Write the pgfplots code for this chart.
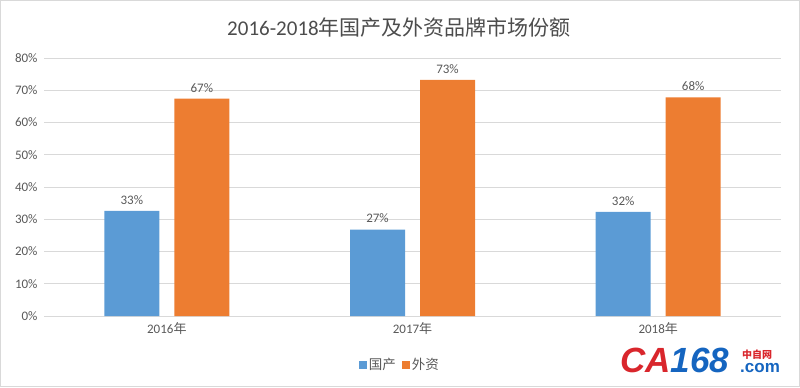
\documentclass[border=0pt]{standalone}
\usepackage{fontspec}
\setmainfont{Carlito}
\newfontfamily\cjk{Noto Sans CJK SC}
\newfontfamily\logo{Liberation Sans}
\usepackage{pgfplots}
\pgfplotsset{compat=1.18}
\definecolor{cblue}{HTML}{5B9BD5}
\definecolor{corange}{HTML}{ED7D31}
\definecolor{tgrey}{HTML}{595959}
\definecolor{ggrey}{HTML}{D9D9D9}
\definecolor{lred}{HTML}{D9262C}
\definecolor{lblue}{HTML}{1565C0}
\begin{document}
\begin{tikzpicture}[x=1bp,y=1bp]
\path[use as bounding box] (0,0) rectangle (800,387);
\draw[ggrey, line width=1bp] (0.5,0.5) rectangle (799.5,386.5);
\node[text=tgrey!85!black, font=\fontsize{21bp}{24bp}\selectfont] at (399,359) {2016-2018{\cjk 年国产及外资品牌市场份额}};
\begin{axis}[
  at={(44bp,71bp)}, anchor=south west, scale only axis,
  width=737bp, height=258bp,
  ybar=15bp, bar width=55bp,
  ymin=0, ymax=80, xmin=-0.5, xmax=2.5,
  xtick={0,1,2}, xticklabels={2016{\cjk 年},2017{\cjk 年},2018{\cjk 年}},
  ytick={0,10,...,80},
  yticklabels={0\%,10\%,20\%,30\%,40\%,50\%,60\%,70\%,80\%},
  major tick length=0pt,
  axis line style={draw=none},
  ymajorgrids, grid style={ggrey, line width=0.9bp},
  ticklabel style={text=tgrey, font=\fontsize{13bp}{15bp}\selectfont},
  yticklabel style={xshift=-3bp},
  xticklabel style={yshift=-3bp},
  nodes near coords,
  point meta=explicit symbolic,
  nodes near coords style={text=tgrey, font=\fontsize{13bp}{15bp}\selectfont, yshift=3bp},
  legend columns=2,
  legend style={at={(0.483,-0.190)}, anchor=center, draw=none, fill=none,
    font=\fontsize{13.5bp}{15bp}\selectfont, text=tgrey,
    nodes={inner xsep=2bp}},
  legend image code/.code={\fill[#1] (0bp,-4bp) rectangle (8bp,4bp);},
  clip=false,
]
\addplot[fill=cblue, draw=none] coordinates {(0,32.6) [33\%] (1,26.8) [27\%] (2,32.3) [32\%]};
\addplot[fill=corange, draw=none,
  legend image code/.code={\path (0bp,0bp); \fill[corange] (4bp,-4bp) rectangle (12bp,4bp);}]
  coordinates {(0,67.4) [67\%] (1,73.2) [73\%] (2,67.8) [68\%]};
\legend{{\cjk 国产},{\cjk 外资}}
\end{axis}
\node[anchor=base west, inner sep=0pt, font=\logo\bfseries\itshape\fontsize{35bp}{36bp}\selectfont] at (620,15) {\textcolor{lred}{CA}\textcolor{lblue}{168}};
\node[anchor=base west, inner sep=0pt, font=\cjk\bfseries\fontsize{10bp}{11bp}\selectfont, text=lred] at (742,29) {中自网};
\node[anchor=base west, inner sep=0pt, font=\logo\bfseries\fontsize{17bp}{18bp}\selectfont, text=lblue] at (740,15) {.com};
\end{tikzpicture}
\end{document}
